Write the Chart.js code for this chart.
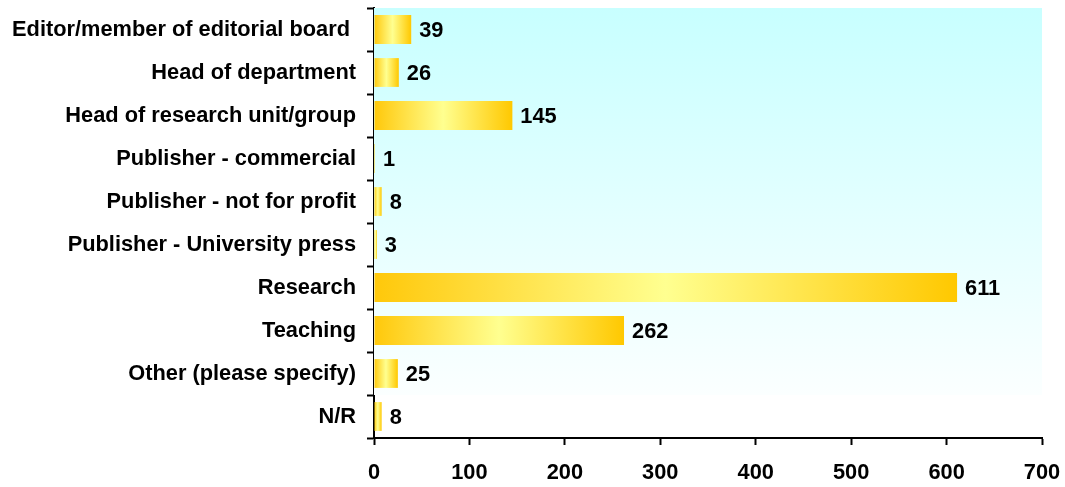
<!DOCTYPE html>
<html>
<head>
<meta charset="utf-8">
<script src="https://cdn.jsdelivr.net/npm/chart.js@4/dist/chart.umd.min.js"></script>
<style>
html,body{margin:0;padding:0;background:#fff;}
#wrap{width:1065px;height:487px;position:relative;}
</style>
</head>
<body>
<div id="wrap"><canvas id="c"></canvas></div>
<script>
const categories = [
  "Editor/member of editorial board ",
  "Head of department",
  "Head of research unit/group",
  "Publisher - commercial",
  "Publisher - not for profit",
  "Publisher - University press",
  "Research",
  "Teaching",
  "Other (please specify)",
  "N/R"
];
const values = [39, 26, 145, 1, 8, 3, 611, 262, 25, 8];
const xTicks = [0, 100, 200, 300, 400, 500, 600, 700];

const FONT = {family: "'Liberation Sans', Arial, sans-serif", size: 21.8, weight: 'bold'};

const bgPlugin = {
  id: 'bgPlugin',
  beforeDatasetsDraw(chart) {
    const {ctx, chartArea, scales} = chart;
    const y = scales.y;
    const bottom = (y.getPixelForValue(8) + y.getPixelForValue(9)) / 2;
    const g = ctx.createLinearGradient(0, chartArea.top, 0, bottom);
    g.addColorStop(0, '#c8ffff');
    g.addColorStop(1, '#fbffff');
    ctx.save();
    ctx.fillStyle = g;
    ctx.fillRect(chartArea.left, chartArea.top, chartArea.right - chartArea.left, bottom - chartArea.top);
    ctx.restore();
  }
};

const labelPlugin = {
  id: 'labelPlugin',
  afterDatasetsDraw(chart) {
    const {ctx} = chart;
    const meta = chart.getDatasetMeta(0);
    ctx.save();
    ctx.font = `${FONT.weight} ${FONT.size}px ${FONT.family}`;
    ctx.fillStyle = '#000';
    ctx.textAlign = 'left';
    ctx.textBaseline = 'middle';
    meta.data.forEach((bar, i) => {
      ctx.fillText(String(values[i]), bar.x + 8, bar.y + 1);
    });
    ctx.restore();
  }
};

function barGradient(c) {
  const chart = c.chart;
  if (!chart.chartArea) return '#ffc800';
  const xs = chart.scales.x;
  const x0 = xs.getPixelForValue(0);
  const x1 = xs.getPixelForValue(c.raw);
  if (x1 - x0 < 1) return '#ffc800';
  const g = chart.ctx.createLinearGradient(x0, 0, x1, 0);
  g.addColorStop(0, '#ffc80a');
  g.addColorStop(0.5, '#ffff90');
  g.addColorStop(1, '#ffc800');
  return g;
}

new Chart(document.getElementById('c'), {
  type: 'bar',
  data: {
    labels: categories,
    datasets: [{
      data: values,
      backgroundColor: barGradient,
      borderWidth: 0,
      categoryPercentage: 1,
      barPercentage: 0.67
    }]
  },
  options: {
    indexAxis: 'y',
    responsive: true,
    maintainAspectRatio: false,
    animation: false,
    layout: {padding: {top: 8, right: 23, bottom: 0, left: 0}},
    plugins: {legend: {display: false}, tooltip: {enabled: false}},
    scales: {
      x: {
        min: 0, max: 700,
        afterBuildTicks(scale) { scale.ticks = xTicks.map(v => ({value: v})); },
        afterFit(scale) { scale.height = 49; scale.paddingLeft = 0; scale.paddingRight = 0; },
        ticks: {color: '#000', font: FONT, padding: 15, maxRotation: 0},
        grid: {drawOnChartArea: false, tickLength: 7, tickColor: '#000', tickWidth: 2},
        border: {color: '#000', width: 2}
      },
      y: {
        afterFit(scale) { scale.width = 374; scale.paddingTop = 0; scale.paddingBottom = 0; },
        ticks: {color: '#000', font: FONT, padding: 11, autoSkip: false},
        grid: {offset: true, drawOnChartArea: false, tickLength: 7, tickColor: '#000', tickWidth: 2},
        border: {color: '#000', width: 2}
      }
    }
  },
  plugins: [bgPlugin, labelPlugin]
});
</script>
</body>
</html>
